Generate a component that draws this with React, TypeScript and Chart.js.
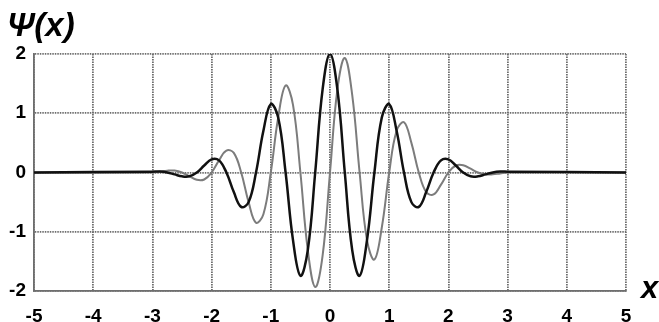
import React, { useEffect, useRef } from "react";
import { Chart, registerables } from "chart.js";

Chart.register(...registerables);

const xValues = [
  -5, -3, -2.875, -2.75, -2.625, -2.5, -2.375, -2.25, -2.125, -2, -1.875, -1.75, -1.625, -1.5, -1.375, -1.25,
  -1.125, -1, -0.875, -0.75, -0.625, -0.5, -0.375, -0.25, -0.125, 0, 0.125, 0.25, 0.375, 0.5, 0.625, 0.75,
  0.875, 1, 1.125, 1.25, 1.375, 1.5, 1.625, 1.75, 1.875, 2, 2.125, 2.25, 2.375, 2.5, 2.625, 2.75, 2.875, 3, 5,
];

const psiBlack = [
  0, 0.014, 0.015, 0, -0.032, -0.064, -0.064, 0, 0.118, 0.222, 0.204, 0, -0.331, -0.58, -0.5, 0,
  0.705, 1.154, 0.928, 0, -1.141, -1.743, -1.309, 0, 1.402, 2, 1.402, 0, -1.309, -1.743, -1.141, 0,
  0.928, 1.154, 0.705, 0, -0.5, -0.58, -0.331, 0, 0.204, 0.222, 0.118, 0, -0.064, -0.064, -0.032, 0, 0.015, 0.014, 0,
];

const psiGray = [
  0, 0, 0.015, 0.031, 0.032, 0, -0.064, -0.124, -0.118, 0, 0.204, 0.371, 0.331, 0, -0.5, -0.847,
  -0.705, 0, 0.928, 1.468, 1.141, 0, -1.309, -1.932, -1.402, 0, 1.402, 1.932, 1.309, 0, -1.141, -1.468,
  -0.928, 0, 0.705, 0.847, 0.5, 0, -0.331, -0.371, -0.204, 0, 0.118, 0.124, 0.064, 0, -0.032, -0.031, -0.015, 0, 0,
];

const xTicks = [-5, -4, -3, -2, -1, 0, 1, 2, 3, 4, 5];
const yTicks = [-2, -1, 0, 1, 2];
const yTitle = "Ψ(x)";
const xTitle = "x";

const FONT = "'Liberation Sans', Arial, sans-serif";

export default function App() {
  const ref = useRef<HTMLCanvasElement | null>(null);
  useEffect(() => {
    if (!ref.current) return;
    const toPts = (ys: number[]) => xValues.map((x, i) => ({ x, y: ys[i] }));
    const titles = {
      id: "titles",
      afterDraw(chart: any) {
        const ctx = chart.ctx;
        ctx.save();
        ctx.fillStyle = "#000";
        ctx.textBaseline = "alphabetic";
        ctx.textAlign = "left";
        ctx.font = `italic bold 33px ${FONT}`;
        ctx.fillText(yTitle, 7, 36);
        ctx.font = `italic bold 31px ${FONT}`;
        ctx.fillText(xTitle, 641, 298);
        ctx.restore();
      },
    };
    const gridCommon = {
      color: "#6e6e6e",
      lineWidth: 1.8,
      drawTicks: false,
    };
    const borderCommon = { color: "#6e6e6e", width: 1.8, dash: [1.5, 1] };
    const chart = new Chart(ref.current, {
      type: "line",
      data: {
        datasets: [
          {
            data: toPts(psiBlack),
            borderColor: "#111",
            borderWidth: 2.5,
            pointRadius: 0,
            tension: 0.4,
            fill: false,
            order: 0,
          },
          {
            data: toPts(psiGray),
            borderColor: "#7c7c7c",
            borderWidth: 2,
            pointRadius: 0,
            tension: 0.4,
            fill: false,
            order: 1,
          },
        ],
      },
      options: {
        responsive: false,
        animation: false,
        layout: { padding: { left: 0, top: 54, right: 33, bottom: 0 } },
        plugins: { legend: { display: false }, tooltip: { enabled: false } },
        scales: {
          x: {
            type: "linear",
            min: -5,
            max: 5,
            afterBuildTicks: (s: any) => {
              s.ticks = xTicks.map((v) => ({ value: v }));
            },
            afterFit: (s: any) => {
              s.height = 31;
            },
            grid: gridCommon,
            border: borderCommon,
            ticks: {
              color: "#000",
              font: { family: FONT, size: 19, weight: "bold" },
              padding: 14,
              maxRotation: 0,
              autoSkip: false,
            },
          },
          y: {
            type: "linear",
            min: -2,
            max: 2,
            afterBuildTicks: (s: any) => {
              s.ticks = yTicks.map((v) => ({ value: v }));
            },
            afterFit: (s: any) => {
              s.width = 34;
            },
            grid: gridCommon,
            border: borderCommon,
            ticks: {
              color: "#000",
              font: { family: FONT, size: 19, weight: "bold" },
              padding: 8,
            },
          },
        },
      },
      plugins: [titles],
    } as any);
    return () => chart.destroy();
  }, []);
  return (
    <div style={{ position: "fixed", left: 0, top: 0, width: 659, height: 322, background: "#fff" }}>
      <canvas ref={ref} width={659} height={322} style={{ width: 659, height: 322 }} />
    </div>
  );
}
